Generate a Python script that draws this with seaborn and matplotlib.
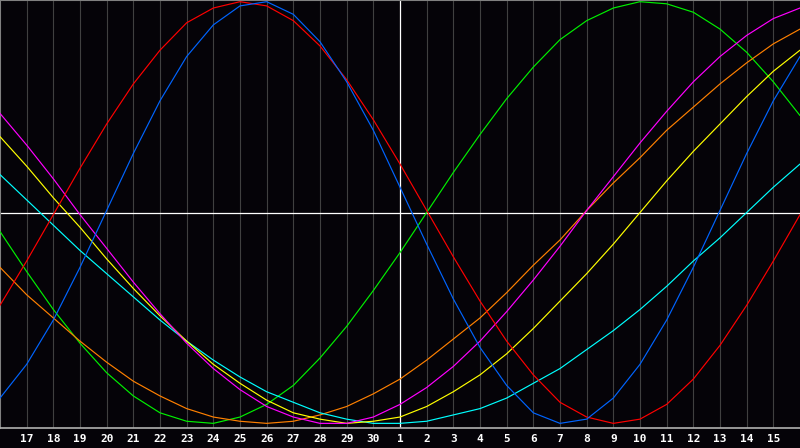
import numpy as np
import pandas as pd
import matplotlib
matplotlib.use("Agg")
import matplotlib.pyplot as plt
import seaborn as sns

days = [16, 17, 18, 19, 20, 21, 22, 23, 24, 25, 26, 27, 28, 29, 30,
        1, 2, 3, 4, 5, 6, 7, 8, 9, 10, 11, 12, 13, 14, 15, 16]

blue = [-0.88,-0.72,-0.51,-0.26,0.01,0.28,0.53,0.74,0.89,0.98,1.00,0.94,0.81,0.62,0.39,0.12,
        -0.15,-0.41,-0.64,-0.82,-0.95,-1.00,-0.98,-0.88,-0.72,-0.51,-0.26,0.01,0.28,0.53,0.74]
red = [-0.44,-0.23,-0.01,0.21,0.42,0.61,0.77,0.90,0.97,1.00,0.98,0.91,0.79,0.63,0.44,0.23,
       0.01,-0.21,-0.42,-0.61,-0.77,-0.90,-0.97,-1.00,-0.98,-0.91,-0.79,-0.63,-0.44,-0.23,-0.01]
green = [-0.09,-0.28,-0.46,-0.62,-0.76,-0.87,-0.95,-0.99,-1.00,-0.97,-0.91,-0.82,-0.69,-0.54,-0.37,-0.19,
         0.00,0.19,0.37,0.54,0.69,0.82,0.91,0.97,1.00,0.99,0.95,0.87,0.76,0.62,0.46]
magenta = [0.47,0.32,0.16,-0.01,-0.17,-0.33,-0.48,-0.62,-0.74,-0.84,-0.92,-0.97,-1.00,-1.00,-0.97,-0.91,
           -0.83,-0.73,-0.61,-0.47,-0.32,-0.16,0.01,0.17,0.33,0.48,0.62,0.74,0.84,0.92,0.97]
yellow = [0.36,0.22,0.07,-0.07,-0.22,-0.36,-0.49,-0.61,-0.72,-0.81,-0.89,-0.95,-0.98,-1.00,-0.99,-0.97,
          -0.92,-0.85,-0.77,-0.67,-0.55,-0.42,-0.29,-0.15,0.00,0.15,0.29,0.42,0.55,0.67,0.77]
orange = [-0.26,-0.39,-0.50,-0.61,-0.71,-0.80,-0.87,-0.93,-0.97,-0.99,-1.00,-0.99,-0.96,-0.92,-0.86,-0.79,
          -0.70,-0.60,-0.50,-0.38,-0.25,-0.13,0.01,0.14,0.26,0.39,0.50,0.61,0.71,0.80,0.87]
cyan = [0.18,0.06,-0.06,-0.18,-0.29,-0.40,-0.51,-0.61,-0.70,-0.78,-0.85,-0.90,-0.95,-0.98,-1.00,-1.00,
        -0.99,-0.96,-0.93,-0.88,-0.81,-0.74,-0.65,-0.56,-0.46,-0.35,-0.23,-0.12,0.00,0.12,0.23]

series = {"green": green, "orange": orange, "cyan": cyan, "yellow": yellow,
          "magenta": magenta, "red": red, "blue": blue}
colors = {"red": "#ff0000", "blue": "#0064ff", "green": "#00f000", "magenta": "#ff00ff",
          "yellow": "#ffff00", "orange": "#ff8000", "cyan": "#00ffff"}

idx = list(range(len(days)))
rows = []
for name, vals in series.items():
    for i, v in zip(idx, vals):
        rows.append({"i": i, "value": v, "cycle": name})
df = pd.DataFrame(rows)

sns.set_style("dark")
bg = "#050308"
fig = plt.figure(figsize=(8.0, 4.48), dpi=100, facecolor=bg)
ax = fig.add_axes([0, 20/448, 1, 428/448])
ax.set_facecolor(bg)

# grid lines
for i in idx[1:-1]:
    if i != 15:
        ax.axvline(i, color="#404040", lw=0.8, zorder=1)
ax.axvline(15, color="#ffffff", lw=0.9, zorder=2)
ax.axhline(0, color="#ffffff", lw=0.9, zorder=2)

sns.lineplot(data=df, x="i", y="value", hue="cycle", palette=colors,
             hue_order=list(series.keys()), lw=0.85, legend=False, ax=ax,
             zorder=3, estimator=None, sort=True)

ax.set_xlim(0, 30)
ax.set_ylim(-1.022, 1.008)
ax.set_xlabel("")
ax.set_ylabel("")
ax.set_yticks([])
ax.set_xticks(idx[1:-1])
ax.set_xticklabels([str(d) for d in days[1:-1]], color="white",
                   fontsize=8, fontweight="bold", family="DejaVu Sans Mono")
ax.tick_params(axis="x", length=0, pad=4)
ax.grid(False)
for s in ["top", "left"]:
    ax.spines[s].set_visible(True)
    ax.spines[s].set_color("#808080")
    ax.spines[s].set_linewidth(1.5)
ax.spines["bottom"].set_color("#b0b0b0")
ax.spines["bottom"].set_linewidth(1.2)
ax.spines["right"].set_visible(False)

fig.savefig("out.png", dpi=100, facecolor=bg)
